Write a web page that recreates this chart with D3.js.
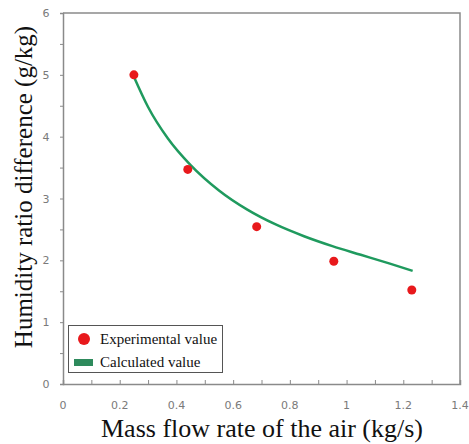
<!DOCTYPE html>
<html>
<head>
<meta charset="utf-8">
<script src="https://cdn.jsdelivr.net/npm/d3@7"></script>
<style>
  html, body { margin: 0; padding: 0; background: #fff; }
  svg { display: block; }
</style>
</head>
<body>
<svg id="chart" width="469" height="444"></svg>
<script>
// Measured humidity ratio difference vs. air mass flow rate
const expFlow = [0.25, 0.44, 0.683, 0.955, 1.23];
const expDiff = [5.0, 3.47, 2.545, 1.985, 1.52];

// Calculated (model) curve
const calcFlow = [0.25, 0.30, 0.37, 0.45, 0.55, 0.65, 0.75, 0.85, 0.95, 1.05, 1.15, 1.233];
const calcDiff = [4.97, 4.48, 3.97, 3.54, 3.13, 2.82, 2.58, 2.39, 2.23, 2.09, 1.95, 1.83];

const xTicks = [0, 0.2, 0.4, 0.6, 0.8, 1, 1.2, 1.4];
const yTicks = [0, 1, 2, 3, 4, 5, 6];

const legendLabels = ["Experimental value", "Calculated value"];
const xTitle = "Mass flow rate of the air (kg/s)";
const yTitle = "Humidity ratio difference (g/kg)";

const svg = d3.select("#chart");
const plotL = 63, plotR = 460, plotT = 13, plotB = 384;

const x = d3.scaleLinear().domain([0, 1.4]).range([plotL, plotR]);
const y = d3.scaleLinear().domain([0, 6]).range([plotB, plotT]);

const axisColor = "#8a8a8a";
const tickText = "#7a7a7a";

// frame (top and right)
svg.append("path")
  .attr("d", `M${plotL},${plotT}H${plotR}V${plotB}`)
  .attr("fill", "none")
  .attr("stroke", axisColor)
  .attr("stroke-width", 1.5);

// x axis: minor ticks every 0.1 pointing inward, labels every 0.2
const xAxis = svg.append("g").attr("transform", `translate(0,${plotB})`)
  .call(d3.axisBottom(x).tickValues(d3.range(0, 1.41, 0.1)).tickSize(-4).tickFormat(""));
xAxis.select(".domain").attr("stroke", axisColor).attr("stroke-width", 1.5);
xAxis.selectAll(".tick line").attr("stroke", axisColor);

svg.append("g").selectAll("text").data(xTicks).join("text")
  .attr("x", d => x(d))
  .attr("y", 409)
  .attr("text-anchor", "middle")
  .attr("font-family", "DejaVu Sans, sans-serif")
  .attr("font-size", 11)
  .attr("fill", tickText)
  .text(d => d);

// y axis: ticks every 0.5 pointing outward
const yAxis = svg.append("g").attr("transform", `translate(${plotL},0)`)
  .call(d3.axisLeft(y).tickValues(d3.range(0, 6.01, 0.5)).tickSize(3).tickFormat(""));
yAxis.select(".domain").attr("stroke", axisColor).attr("stroke-width", 1.5);
yAxis.selectAll(".tick line").attr("stroke", axisColor);

svg.append("g").selectAll("text").data(yTicks).join("text")
  .attr("x", 46)
  .attr("y", d => y(d) + 4)
  .attr("text-anchor", "middle")
  .attr("font-family", "DejaVu Sans, sans-serif")
  .attr("font-size", 11)
  .attr("fill", tickText)
  .text(d => d);

// calculated curve
const calc = calcFlow.map((f, i) => [f, calcDiff[i]]);
svg.append("path")
  .datum(calc)
  .attr("fill", "none")
  .attr("stroke", "#1f9a5e")
  .attr("stroke-width", 2.5)
  .attr("d", d3.line().x(d => x(d[0])).y(d => y(d[1])).curve(d3.curveMonotoneX));

// experimental points
svg.append("g").selectAll("circle").data(expFlow.map((f, i) => [f, expDiff[i]])).join("circle")
  .attr("cx", d => x(d[0]))
  .attr("cy", d => y(d[1]))
  .attr("r", 4.5)
  .attr("fill", "#e8191c");

// legend
const lg = svg.append("g");
lg.append("rect")
  .attr("x", 68.5).attr("y", 325.5).attr("width", 154).attr("height", 47)
  .attr("fill", "#fff").attr("stroke", "#555").attr("stroke-width", 1);
lg.append("circle").attr("cx", 84).attr("cy", 339).attr("r", 6).attr("fill", "#e8191c");
lg.append("rect").attr("x", 74).attr("y", 359).attr("width", 19).attr("height", 7).attr("fill", "#2e8a5c");
lg.selectAll("text").data(legendLabels).join("text")
  .attr("x", 100)
  .attr("y", (d, i) => 344 + i * 23)
  .attr("font-family", "Liberation Serif, Times New Roman, serif")
  .attr("font-size", 15)
  .attr("fill", "#111")
  .text(d => d);

// axis titles
svg.append("text")
  .attr("x", 262).attr("y", 437)
  .attr("text-anchor", "middle")
  .attr("font-family", "Liberation Serif, Times New Roman, serif")
  .attr("font-size", 26)
  .attr("fill", "#111")
  .text(xTitle);

svg.append("text")
  .attr("transform", "translate(32,187) rotate(-90)")
  .attr("text-anchor", "middle")
  .attr("font-family", "Liberation Serif, Times New Roman, serif")
  .attr("font-size", 25)
  .attr("fill", "#111")
  .text(yTitle);
</script>
</body>
</html>
